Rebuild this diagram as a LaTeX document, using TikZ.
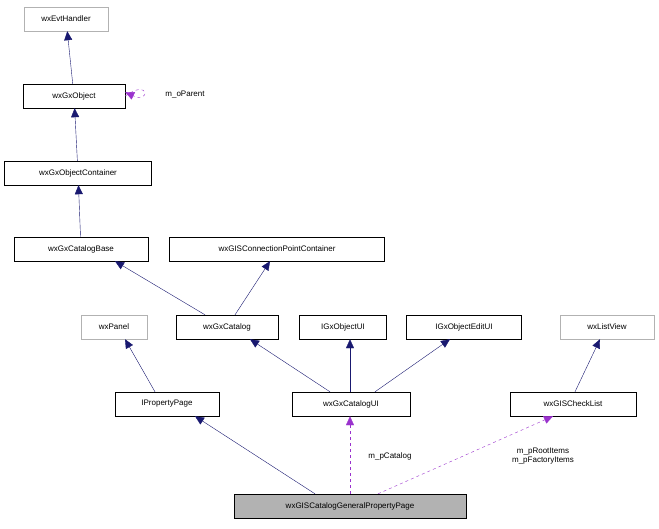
\documentclass[tikz,border=0pt]{standalone}
\usepackage{fontspec}
\setmainfont{Liberation Sans}
\usetikzlibrary{positioning, calc, arrows.meta}
\definecolor{navy}{HTML}{191970}
\definecolor{purp}{HTML}{9A32CD}
\begin{document}
\begin{tikzpicture}[x=1pt,y=-1pt,font=\fontsize{8}{9}\selectfont,
  cls/.style={rectangle,draw,minimum height=24pt,inner sep=2pt,fill=white},
  ext/.style={cls,draw=gray!60},
  inh/.style={-{Triangle[length=9pt,width=8pt]},navy},
  use/.style={-{Triangle[length=9pt,width=8pt]},purp,dashed}]
\useasboundingbox (0,0) rectangle (659,528);
\node (evt) [ext, minimum width=84pt] at (66,19) {wxEvtHandler};
\node (obj) [cls, minimum width=102pt] at (74,96) {wxGxObject};
\node (cont) [cls, minimum width=147pt] at (78,173) {wxGxObjectContainer};
\node (base) [cls, minimum width=134pt] at (81,249) {wxGxCatalogBase};
\node (cpc) [cls, minimum width=215pt] at (277,249) {wxGISConnectionPointContainer};
\node (panel) [ext, minimum width=66pt] at (114,327) {wxPanel};
\node (cat) [cls, minimum width=102pt] at (227,327) {wxGxCatalog};
\node (oui) [cls, minimum width=87pt] at (343,327) {IGxObjectUI};
\node (oeui) [cls, minimum width=115pt] at (464,327) {IGxObjectEditUI};
\node (lv) [ext, minimum width=94pt] at (607,327) {wxListView};
\node (pp) [cls, minimum width=104pt] at (167,404) {IPropertyPage};
\node (cui) [cls, minimum width=118pt] at (351,404) {wxGxCatalogUI};
\node (chk) [cls, minimum width=126pt] at (573,404) {wxGISCheckList};
\node (gen) [cls, minimum width=232pt, fill=gray!60] at (350,506) {wxGISCatalogGeneralPropertyPage};

\draw [inh] (obj) -- (evt);
\draw [inh] (cont) -- (obj);
\draw [inh] (base) -- (cont);
\draw [inh] ($(cat.north)+(-22,0)$) -- ($(base.south)+(34,0)$);
\draw [inh] ($(cat.north)+(8,0)$) -- ($(cpc.south)+(-7,0)$);
\draw [inh] ($(pp.north)+(-12,0)$) -- ($(panel.south)+(11,0)$);
\draw [inh] ($(cui.north)+(-21,0)$) -- ($(cat.south)+(23,0)$);
\draw [inh] ($(cui.north)+(-1,0)$) -- ($(oui.south)+(7,0)$);
\draw [inh] ($(cui.north)+(24,0)$) -- ($(oeui.south)+(-14,0)$);
\draw [inh] ($(chk.north)+(2,0)$) -- ($(lv.south)+(-7,0)$);
\draw [inh] ($(gen.north)+(-35,0)$) -- ($(pp.south)+(28,0)$);
\draw [use] (obj.east) .. controls +(25,-18) and +(25,12) .. ($(obj.east)+(0,-4)$);
\node (lpar) at (185,95) {m\_oParent};
\draw [use] ($(gen.north)+(0,0)$) -- ($(cui.south)+(-1,0)$);
\node (lcat) at (390,456) {m\_pCatalog};
\draw [use] ($(gen.north)+(28,0)$) -- ($(chk.south)+(-20,0)$);
\node (litems) [align=center] at (543,456) {m\_pRootItems\\m\_pFactoryItems};
\end{tikzpicture}
\end{document}
